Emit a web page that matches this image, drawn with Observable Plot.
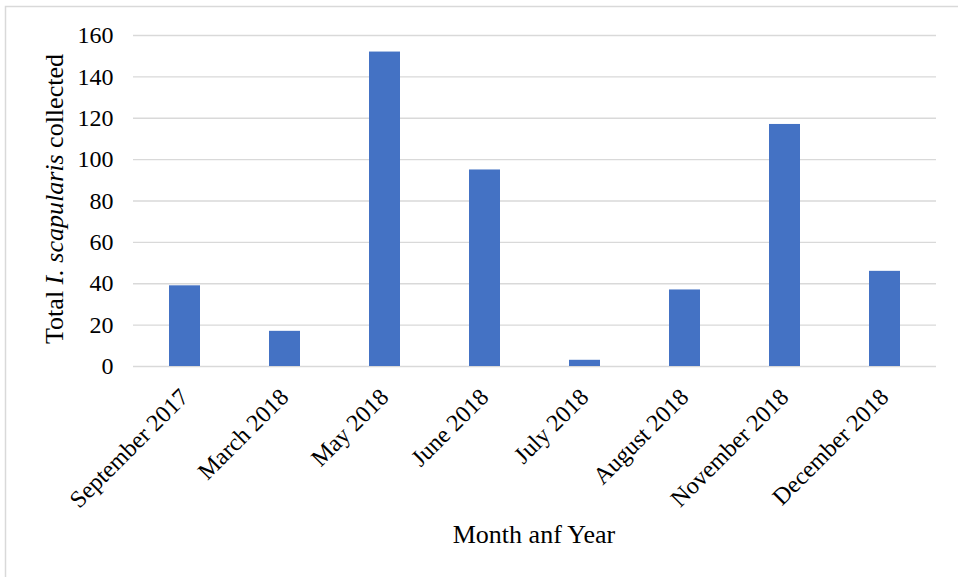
<!DOCTYPE html>
<html>
<head>
<meta charset="utf-8">
<script src="https://cdn.jsdelivr.net/npm/d3@7"></script>
<script src="https://cdn.jsdelivr.net/npm/@observablehq/plot@0.6"></script>
<style>
  html, body { margin: 0; padding: 0; background: #fff; }
  #chart { width: 958px; height: 577px; overflow: hidden; }
  #chart svg { display: block; }
  #chart svg, #chart svg text { font-family: "Liberation Serif", "Times New Roman", serif !important; }
</style>
</head>
<body>
<div id="chart"></div>
<script>
// Monthly tick collections
const months = ["September 2017", "March 2018", "May 2018", "June 2018", "July 2018", "August 2018", "November 2018", "December 2018"];
const ticksCollected = [39, 17, 152, 95, 3, 37, 117, 46];
const yTicks = [0, 20, 40, 60, 80, 100, 120, 140, 160];

const rows = months.map((m, i) => ({month: m, total: ticksCollected[i]}));

const serif = "Liberation Serif, Times New Roman, serif";

const svg = Plot.plot({
  width: 958,
  height: 577,
  marginTop: 35,
  marginRight: 22,
  marginBottom: 211,
  marginLeft: 133,
  style: {fontFamily: serif, fontSize: "24px", color: "#000", background: "#fff"},
  x: {domain: months, paddingInner: 0.69, paddingOuter: 0.345, axis: null},
  y: {domain: [0, 160], ticks: yTicks, label: null},
  marks: [
    Plot.ruleY(yTicks, {stroke: "#d9d9d9", strokeWidth: 1.3}),
    Plot.barY(rows, {x: "month", y: "total", fill: "#4472C4"}),
    Plot.axisY({ticks: yTicks, tickSize: 0, tickPadding: 20, label: null, fontSize: 24}),
    Plot.text(months, {
      x: d => d,
      frameAnchor: "bottom",
      rotate: -45,
      textAnchor: "end",
      lineAnchor: "bottom",
      dx: 5,
      dy: 32,
      fontSize: 24,
      fill: "#000"
    })
  ]
});

const root = d3.select(svg);

// outer frame
root.insert("rect", ":first-child")
  .attr("x", 5.5).attr("y", 6.5)
  .attr("width", 1000).attr("height", 1000)
  .attr("fill", "none").attr("stroke", "#d9d9d9").attr("stroke-width", 1.5);

// y-axis title with italic species name
const yTitle = root.append("text")
  .attr("transform", "translate(63,199) rotate(-90)")
  .attr("text-anchor", "middle")
  .attr("font-size", 26)
  .attr("fill", "#000");
yTitle.append("tspan").text("Total ");
yTitle.append("tspan").attr("font-style", "italic").text("I. scapularis");
yTitle.append("tspan").text(" collected");

// x-axis title
root.append("text")
  .attr("x", 534).attr("y", 543)
  .attr("text-anchor", "middle")
  .attr("font-size", 26)
  .attr("fill", "#000")
  .text("Month anf Year");

document.getElementById("chart").appendChild(svg);
</script>
</body>
</html>
